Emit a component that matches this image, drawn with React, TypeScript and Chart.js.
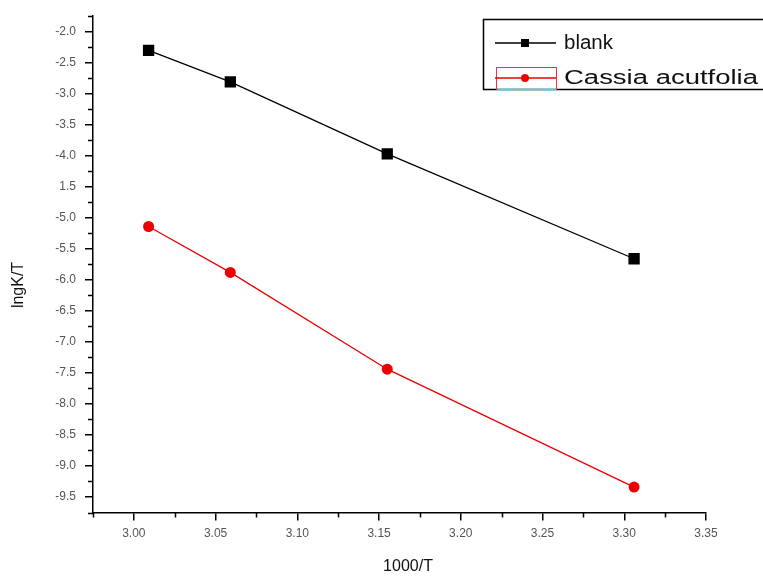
import React, { useEffect, useRef } from "react";
import { Chart, registerables } from "chart.js";

Chart.register(...registerables);

const xValues = [3.009, 3.059, 3.155, 3.306];
const blankValues = [-2.3, -2.81, -3.97, -5.66];
const cassiaValues = [-5.14, -5.88, -7.44, -9.34];
const seriesNames = ["blank", "Cassia acutfolia"];
const legendTextWidths = [49, 194];
const xTickValues = [3.0, 3.05, 3.1, 3.15, 3.2, 3.25, 3.3, 3.35];
const xTickLabels = ["3.00", "3.05", "3.10", "3.15", "3.20", "3.25", "3.30", "3.35"];
const yTickValues = [-2.0, -2.5, -3.0, -3.5, -4.0, -4.5, -5.0, -5.5, -6.0, -6.5, -7.0, -7.5, -8.0, -8.5, -9.0, -9.5];
const yTickLabels = ["-2.0", "-2.5", "-3.0", "-3.5", "-4.0", "1.5", "-5.0", "-5.5", "-6.0", "-6.5", "-7.0", "-7.5", "-8.0", "-8.5", "-9.0", "-9.5"];
const xTitle = "1000/T";
const yTitle = "lngK/T";

const decorPlugin = {
  id: "decor",
  afterDraw(chart: any) {
    const ctx = chart.ctx;
    const xs = chart.scales.x;
    const ys = chart.scales.y;
    const area = chart.chartArea;
    ctx.save();
    // minor ticks
    ctx.strokeStyle = "#000";
    ctx.lineWidth = 1.5;
    ctx.beginPath();
    for (let v = -9.75; v <= -1.74; v += 0.5) {
      const py = Math.round(ys.getPixelForValue(v)) + 0.5;
      ctx.moveTo(area.left - 5, py);
      ctx.lineTo(area.left, py);
    }
    for (let v = 2.975; v <= 3.34; v += 0.05) {
      const px = Math.round(xs.getPixelForValue(v)) + 0.5;
      ctx.moveTo(px, area.bottom);
      ctx.lineTo(px, area.bottom + 5);
    }
    ctx.stroke();

    // axis titles
    ctx.fillStyle = "#111";
    ctx.font = "16px 'Liberation Sans', Arial, sans-serif";
    ctx.textAlign = "center";
    ctx.textBaseline = "middle";
    ctx.fillText(xTitle, 408, 567);
    ctx.save();
    ctx.translate(19, 285);
    ctx.rotate(-Math.PI / 2);
    ctx.fillText(yTitle, 0, 0);
    ctx.restore();

    // legend
    ctx.strokeStyle = "#000";
    ctx.lineWidth = 1.5;
    ctx.strokeRect(483.5, 19.5, 300, 70);
    const rows = [
      { y: 43, color: "#000", style: "rect" },
      { y: 78, color: "#ee0000", style: "circle" },
    ];
    // red frame artifact around second sample
    ctx.strokeStyle = "#ee3344";
    ctx.lineWidth = 1;
    ctx.strokeRect(496.5, 67.5, 60, 22);
    ctx.strokeStyle = "#33dddd";
    ctx.lineWidth = 1.5;
    ctx.beginPath();
    ctx.moveTo(498, 89.5);
    ctx.lineTo(556, 89.5);
    ctx.stroke();
    rows.forEach((r, i) => {
      ctx.strokeStyle = r.color;
      ctx.fillStyle = r.color;
      ctx.lineWidth = 1.5;
      ctx.beginPath();
      ctx.moveTo(495, r.y);
      ctx.lineTo(556, r.y);
      ctx.stroke();
      if (r.style === "rect") {
        ctx.fillRect(521, r.y - 4, 8, 8);
      } else {
        ctx.beginPath();
        ctx.arc(525, r.y, 4, 0, Math.PI * 2);
        ctx.fill();
      }
      ctx.fillStyle = "#111";
      ctx.font = "20px 'Liberation Sans', Arial, sans-serif";
      ctx.textAlign = "left";
      ctx.textBaseline = "middle";
      const w = ctx.measureText(seriesNames[i]).width;
      const sx = legendTextWidths[i] / w;
      ctx.save();
      ctx.translate(564, r.y);
      ctx.scale(sx, 1);
      ctx.fillText(seriesNames[i], 0, 0);
      ctx.restore();
    });
    ctx.restore();
  },
};

export default function App() {
  const ref = useRef<HTMLCanvasElement | null>(null);
  useEffect(() => {
    document.body.style.margin = "0";
    const canvas = ref.current!;
    const chart = new Chart(canvas, {
      type: "scatter",
      data: {
        datasets: [
          {
            label: seriesNames[0],
            data: xValues.map((x, i) => ({ x, y: blankValues[i] })),
            showLine: true,
            borderColor: "#000",
            backgroundColor: "#000",
            borderWidth: 1.3,
            pointStyle: "rect",
            pointRadius: 8,
            pointBorderWidth: 0,
          },
          {
            label: seriesNames[1],
            data: xValues.map((x, i) => ({ x, y: cassiaValues[i] })),
            showLine: true,
            borderColor: "#ee0000",
            backgroundColor: "#ee0000",
            borderWidth: 1.3,
            pointStyle: "circle",
            pointRadius: 5.5,
            pointBorderWidth: 0,
          },
        ],
      },
      options: {
        responsive: false,
        animation: false,
        layout: { padding: { left: 0, top: 15, right: 57, bottom: 0 } },
        plugins: { legend: { display: false }, tooltip: { enabled: false } },
        scales: {
          x: {
            type: "linear",
            min: 2.975,
            max: 3.35,
            afterFit: (s: any) => {
              s.height = 66.5;
            },
            afterBuildTicks: (s: any) => {
              s.ticks = xTickValues.map((v) => ({ value: v }));
            },
            ticks: {
              autoSkip: false,
              maxRotation: 0,
              padding: 6,
              color: "#555",
              font: { size: 12, family: "'Liberation Sans', Arial, sans-serif" },
              callback: (v: any, i: number) => xTickLabels[i],
            },
            grid: {
              drawOnChartArea: false,
              drawTicks: true,
              tickLength: 8,
              tickColor: "#000",
              lineWidth: 1.5,
            },
            border: { display: true, color: "#000", width: 1.5 },
            title: { display: false },
          },
          y: {
            type: "linear",
            min: -9.75,
            max: -1.75,
            afterFit: (s: any) => {
              s.width = 93;
            },
            afterBuildTicks: (s: any) => {
              s.ticks = yTickValues.map((v) => ({ value: v }));
            },
            ticks: {
              autoSkip: false,
              padding: 9,
              color: "#555",
              font: { size: 12, family: "'Liberation Sans', Arial, sans-serif" },
              callback: (v: any, i: number) => yTickLabels[i],
            },
            grid: {
              drawOnChartArea: false,
              drawTicks: true,
              tickLength: 8,
              tickColor: "#000",
              lineWidth: 1.5,
            },
            border: { display: true, color: "#000", width: 1.5 },
            title: { display: false },
          },
        },
      },
      plugins: [decorPlugin],
    } as any);
    return () => chart.destroy();
  }, []);
  return <canvas ref={ref} width={763} height={579} style={{ display: "block", width: 763, height: 579 }} />;
}
